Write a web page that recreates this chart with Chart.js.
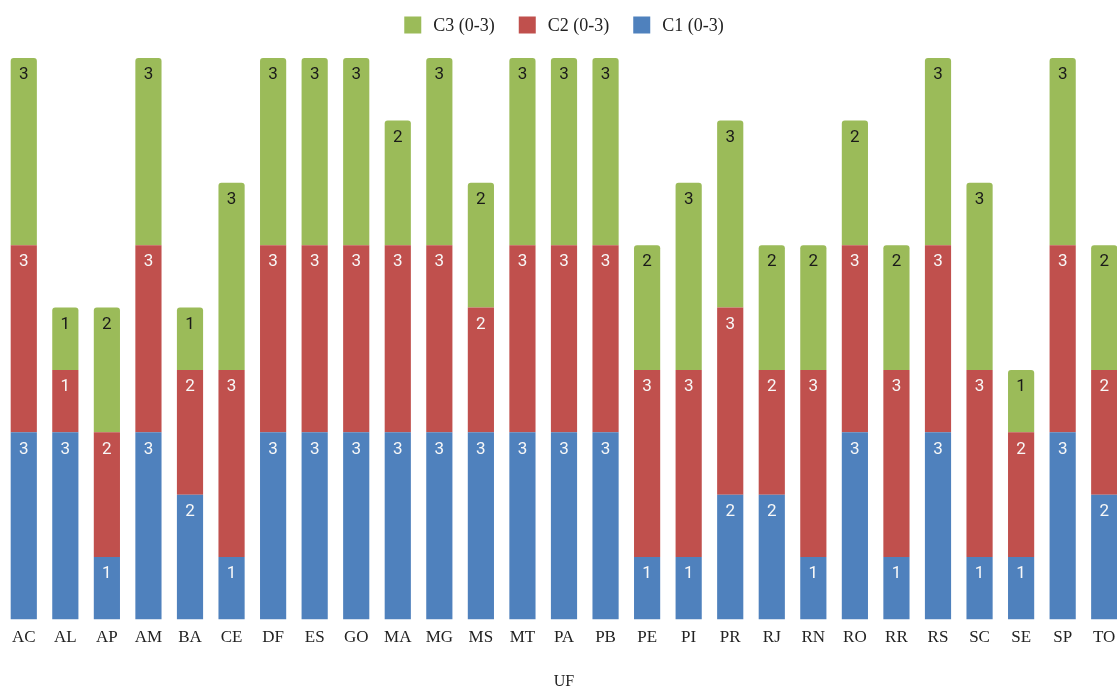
<!DOCTYPE html>
<html>
<head>
<meta charset="utf-8">
<script src="https://cdn.jsdelivr.net/npm/chart.js@4"></script>
<style>
  html, body { margin: 0; padding: 0; background: #fff; overflow: hidden; }
  #wrap { position: absolute; left: 0; top: 0; width: 1128px; height: 695px; }
</style>
</head>
<body>
<div id="wrap"><canvas id="myChart"></canvas></div>
<script>
const ufs = ['AC','AL','AP','AM','BA','CE','DF','ES','GO','MA','MG','MS','MT','PA','PB','PE','PI','PR','RJ','RN','RO','RR','RS','SC','SE','SP','TO'];
const c1 = [3,3,1,3,2,1,3,3,3,3,3,3,3,3,3,1,1,2,2,1,3,1,3,1,1,3,2];
const c2 = [3,1,2,3,2,3,3,3,3,3,3,2,3,3,3,3,3,3,2,3,3,3,3,3,2,3,2];
const c3 = [3,1,2,3,1,3,3,3,3,2,3,2,3,3,3,2,3,3,2,2,2,2,3,3,1,3,2];

// labels drawn near the top of each segment
const barLabels = {
  id: 'barLabels',
  afterDatasetsDraw(chart) {
    const ctx = chart.ctx;
    ctx.save();
    ctx.font = '17px Roboto, "Liberation Sans", sans-serif';
    ctx.textAlign = 'center';
    ctx.textBaseline = 'middle';
    chart.data.datasets.forEach((ds, i) => {
      const meta = chart.getDatasetMeta(i);
      meta.data.forEach((bar, j) => {
        const v = ds.data[j];
        if (!v) return;
        ctx.fillStyle = i == 2 ? '#1a1a1a' : '#f8f8f8';
        ctx.fillText(v, bar.x, bar.y + 17);
      });
    });
    ctx.restore();
  }
};

// legend on top, reversed order (C3, C2, C1)
const topLegend = {
  id: 'topLegend',
  afterDraw(chart) {
    const ctx = chart.ctx;
    const box = 17, gap = 12, space = 24, cy = 25;
    ctx.save();
    ctx.font = '18px "Liberation Serif", serif';
    ctx.textBaseline = 'middle';
    const items = chart.data.datasets.slice().reverse();
    let total = 0;
    items.forEach((ds, i) => {
      total += box + gap + ctx.measureText(ds.label).width;
      if (i < items.length - 1) total += space;
    });
    let x = chart.width / 2 - total / 2;
    items.forEach(ds => {
      ctx.fillStyle = ds.backgroundColor;
      ctx.fillRect(x, cy - box / 2, box, box);
      x += box + gap;
      ctx.fillStyle = '#222';
      ctx.fillText(ds.label, x, cy + 1);
      x += ctx.measureText(ds.label).width + space;
    });
    ctx.restore();
  }
};

const ctx = document.getElementById('myChart').getContext('2d');
const chart = new Chart(ctx, {
  type: 'bar',
  data: {
    labels: ufs,
    datasets: [
      { label: 'C1 (0-3)', data: c1, backgroundColor: '#4f81bd' },
      { label: 'C2 (0-3)', data: c2, backgroundColor: '#c0504d' },
      { label: 'C3 (0-3)', data: c3, backgroundColor: '#9bbb59' }
    ]
  },
  options: {
    responsive: true,
    maintainAspectRatio: false,
    animation: false,
    datasets: {
      bar: { barPercentage: 0.63, categoryPercentage: 1, borderRadius: 3 }
    },
    layout: { padding: { left: 3, right: 3, top: 58, bottom: 0 } },
    plugins: {
      legend: { display: false },
      tooltip: { enabled: false }
    },
    scales: {
      x: {
        stacked: true,
        grid: { display: false },
        border: { display: false },
        ticks: { color: '#222', padding: 0, font: { family: '"Liberation Serif", serif', size: 17 }, maxRotation: 0, autoSkip: false },
        title: { display: true, text: 'UF', color: '#222', font: { family: '"Liberation Serif", serif', size: 16 }, padding: { top: 24 } }
      },
      y: {
        stacked: true,
        display: false,
        min: 0,
        max: 9
      }
    }
  },
  plugins: [barLabels, topLegend]
});
</script>
</body>
</html>
